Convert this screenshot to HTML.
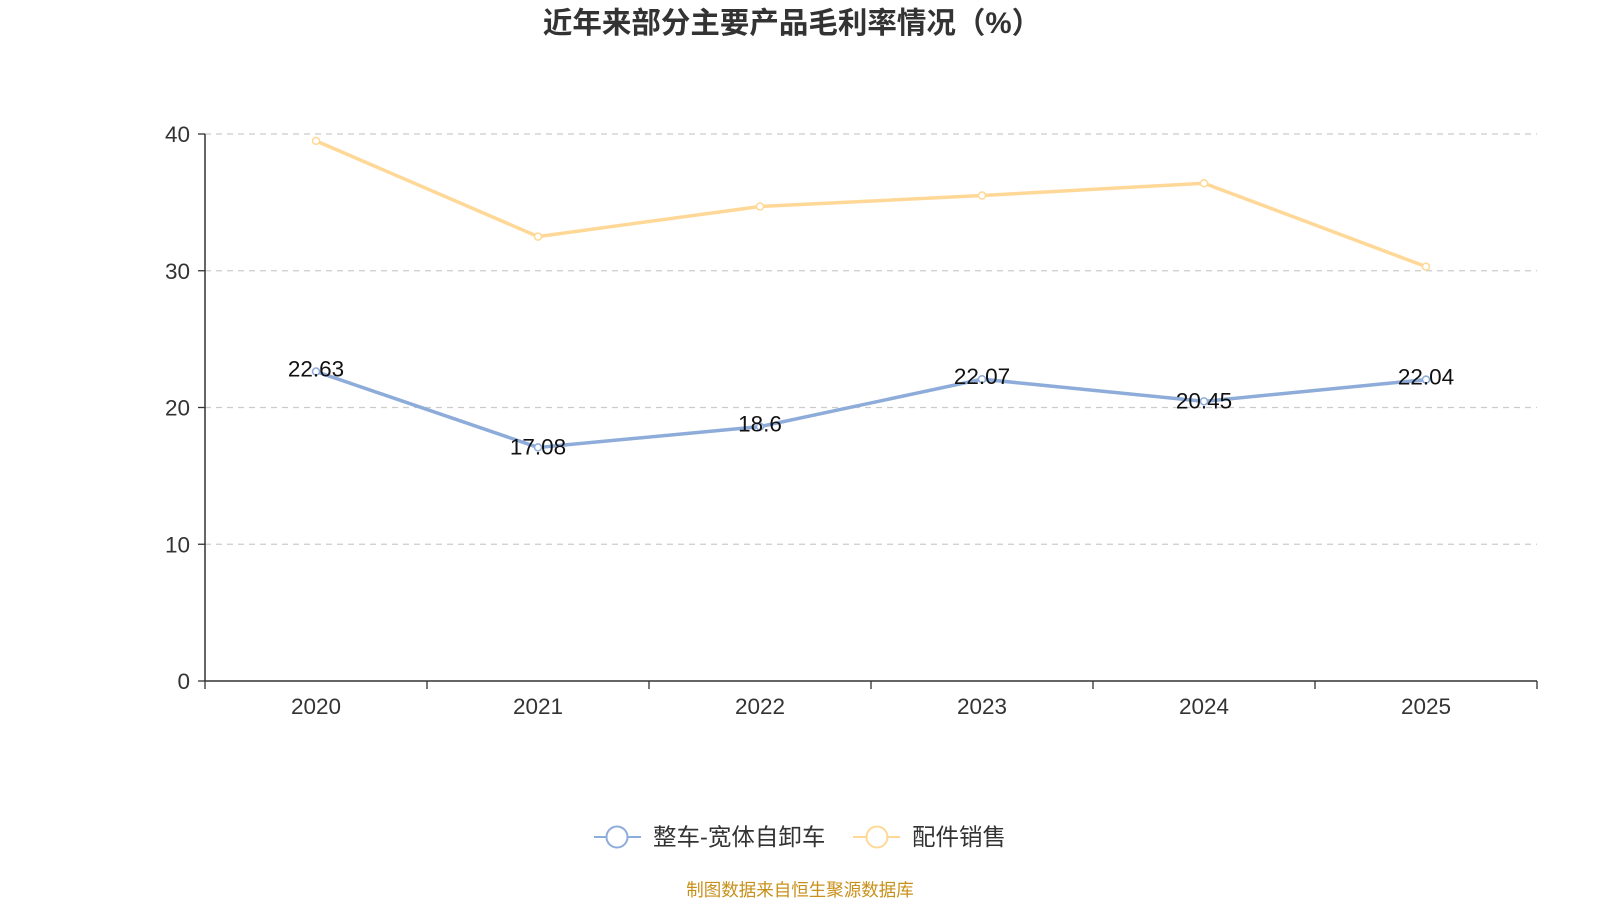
<!DOCTYPE html>
<html><head><meta charset="utf-8"><style>
body{margin:0;background:#fff;}
svg text{font-family:"Liberation Sans","Noto Sans CJK SC",sans-serif;}
</style></head><body>
<svg id="c" width="1600" height="900" xmlns="http://www.w3.org/2000/svg">
<text x="792" y="33" text-anchor="middle" font-size="29.5" font-weight="bold" fill="#333">近年来部分主要产品毛利率情况（%）</text>
<g id="grid"></g><g id="axes"></g><g id="series"></g>
<g>
<g>
<line x1="594" y1="837" x2="641" y2="837" stroke="#8eacd9" stroke-width="2"/>
<circle cx="617" cy="837" r="10.5" fill="#fff" stroke="#8eacd9" stroke-width="2"/>
<text x="653" y="845" font-size="23.5" fill="#333">整车-宽体自卸车</text></g>
<g>
<line x1="853" y1="837" x2="900" y2="837" stroke="#ffd897" stroke-width="2"/>
<circle cx="877" cy="837" r="10.5" fill="#fff" stroke="#ffd897" stroke-width="2"/>
<text x="912" y="845" font-size="23.5" fill="#333">配件销售</text></g>
</g>
<text x="800" y="896" text-anchor="middle" font-size="17.5" fill="#c8901a">制图数据来自恒生聚源数据库</text>
</svg>
<script>
const categories=["2020","2021","2022","2023","2024","2025"];
const truckValues=[22.63,17.08,18.6,22.07,20.45,22.04];
const partsValues=[39.5,32.5,34.7,35.5,36.4,30.3];
const yTicks=[0,10,20,30,40];
const NS="http://www.w3.org/2000/svg";
const L=205,R=1537,T=134,B=681,yMax=40;
const bw=(R-L)/categories.length;
const x=i=>L+bw*(i+0.5);
const y=v=>B-(v/yMax)*(B-T);
function mk(tag,attrs,parent,txt){const e=document.createElementNS(NS,tag);for(const k in attrs)e.setAttribute(k,attrs[k]);if(txt!=null)e.textContent=txt;document.getElementById(parent).appendChild(e);return e;}
yTicks.forEach(t=>{
 if(t>0){const g=mk('line',{x1:L,x2:R,y1:y(t),y2:y(t),stroke:'#ccc','stroke-dasharray':'6,5','stroke-width':1.3},'grid');
 
 }
 const tk=mk('line',{x1:L-7,x2:L,y1:y(t),y2:y(t),stroke:'#333','stroke-width':1.3},'axes');
 
 
 const lb=mk('text',{x:L-15,y:y(t)+8,'text-anchor':'end','font-size':22.5,fill:'#333'},'axes',String(t));
 
 
});
const ya=mk('line',{x1:L,x2:L,y1:T,y2:B,stroke:'#333','stroke-width':1.5},'axes');


const xa=mk('line',{x1:L,x2:R,y1:B,y2:B,stroke:'#333','stroke-width':1.5},'axes');


for(let i=0;i<=categories.length;i++){const t=mk('line',{x1:L+bw*i,x2:L+bw*i,y1:B,y2:B+8,stroke:'#333','stroke-width':1.3},'axes');

}
categories.forEach((c,i)=>{const t=mk('text',{x:x(i),y:B+33,'text-anchor':'middle','font-size':22.5,fill:'#333'},'axes',c);

});
function series(vals,color,name,labels){
 const p=mk('polyline',{points:vals.map((v,i)=>x(i)+','+y(v)).join(' '),fill:'none',stroke:color,'stroke-width':3.5},'series');
 
 
 vals.forEach((v,i)=>{const c=mk('circle',{cx:x(i),cy:y(v),r:3.5,fill:'#fff',stroke:color,'stroke-width':1.5},'series');
 
 
 if(labels){const t=mk('text',{x:x(i),y:y(v)+5+(i==1||i==4?2:0),'text-anchor':'middle','font-size':22.5,fill:'#111'},'series',String(v));
 
 }});
}
series(partsValues,'#ffd897','parts',false);
series(truckValues,'#8eacd9','truck',true);
</script>
</body></html>
